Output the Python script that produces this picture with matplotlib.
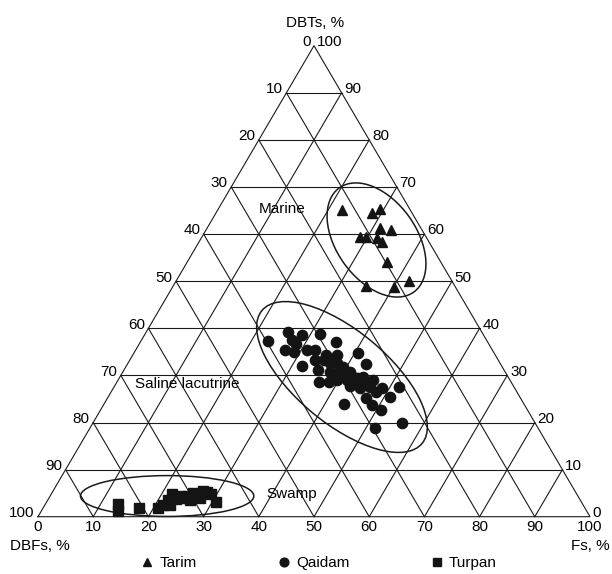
import numpy as np
import matplotlib
matplotlib.use("Agg")
import matplotlib.pyplot as plt
from matplotlib.patches import Ellipse

plt.rcParams['font.family'] = ['Liberation Sans', 'DejaVu Sans']

# sample compositions, % (DBTs, Fs); DBFs = 100 - DBTs - Fs
tarim_dbts = [65.1, 64.5, 65.3, 61.2, 60.9, 59.4, 59.4, 59.1, 58.4, 54.1, 49.0, 48.7, 50.1]
tarim_fs = [22.6, 28.2, 29.3, 31.4, 33.5, 28.6, 29.8, 31.9, 33.2, 36.1, 35.0, 40.1, 42.1]

qaidam_dbts = [37.4, 39.2, 37.5, 38.6, 38.7, 35.4, 35.0, 35.4, 35.4, 37.0, 34.3, 34.3,
               33.3, 33.3, 32.0, 32.6, 31.8, 34.7, 32.4, 31.1, 30.8, 30.4, 30.8, 29.7,
               28.7, 28.7, 29.0, 29.0, 28.3, 29.7, 28.3, 29.0, 27.3, 27.6, 27.3, 27.5,
               25.4, 25.1, 23.7, 22.7, 23.9, 20.0, 18.8,
               31.6, 29.4, 28.2, 26.5, 32.6, 27.7, 36.7]
qaidam_fs = [23.0, 25.7, 27.2, 28.5, 31.7, 27.0, 28.8, 31.0, 32.5, 35.5, 35.1, 37.0,
             33.6, 35.1, 31.8, 37.8, 39.4, 40.6, 43.3, 35.2, 37.5, 39.5, 41.1, 42.2,
             36.5, 38.3, 39.6, 41.4, 43.5, 44.0, 45.3, 46.2, 44.7, 46.3, 48.7, 51.6,
             51.1, 46.9, 48.6, 50.7, 43.5, 55.9, 51.7,
             38.9, 43.3, 44.6, 47.9, 36.6, 42.6, 28.4]

turpan_dbts = [2.7, 1.2, 1.8, 1.8, 2.5, 3.5, 4.8, 3.8, 4.4, 4.0, 4.4, 5.0, 4.8, 5.4,
               5.2, 4.8, 3.1, 2.5, 3.5, 4.0]
turpan_fs = [13.1, 13.9, 17.4, 20.8, 21.4, 21.8, 21.9, 23.1, 23.5, 24.4, 25.0, 25.6,
             26.6, 27.2, 28.0, 28.9, 30.7, 22.7, 25.8, 27.3]

# depositional environment fields: centre (DBTs, Fs), width, height, angle
env_fields = [
    ((58.75, 31.95), 23.2, 14.5, -54.5),
    ((29.66, 40.24), 37.7, 16.8, -39.7),
    ((4.39, 21.2), 31.4, 7.4, 0.0),
]
field_labels = [
    ("Marine", (65.3, 11.5)),
    ("Saline lacutrine", (28.2, 13.0)),
    ("Swamp", (4.8, 43.5)),
]

ticks = list(range(0, 101, 10))

SQ = 471 / 552  # vertical squash of the triangle


def tern(dbts, fs):
    dbts = np.asarray(dbts, float)
    fs = np.asarray(fs, float)
    return fs + dbts / 2, dbts * SQ


fig = plt.figure(figsize=(6.12, 5.74), dpi=100)
W, H = 612, 574
ax = fig.add_axes([38 / W, (H - 516.7) / H, 552 / W, 471 / H])
ax.set_xlim(0, 100)
ax.set_ylim(0, 100 * SQ)
ax.axis('off')

lc = '#1a1a1a'
lw = 0.8

# grid
for i in ticks[1:-1]:
    x, y = tern([i, i], [0, 100 - i])            # constant DBTs
    ax.plot(x, y, color=lc, lw=lw, clip_on=False)
    x, y = tern([0, 100 - i], [i, i])            # constant Fs
    ax.plot(x, y, color=lc, lw=lw, clip_on=False)
    x, y = tern([0, 100 - i], [100 - i, 0])      # constant DBFs
    ax.plot(x, y, color=lc, lw=lw, clip_on=False)

x, y = tern([0, 0, 100, 0], [0, 100, 0, 0])
ax.plot(x, y, color=lc, lw=lw, clip_on=False)

# tick labels
fs_tick = 11
for v in ticks:
    x, y = tern(0, v)
    ax.annotate(str(v), (x, y), xytext=(0, -7.2), textcoords='offset points',
                ha='center', va='center', fontsize=fs_tick)
    x, y = tern(100 - v, 0)
    ax.annotate(str(v), (x, y), xytext=(-2.5, 2.6), textcoords='offset points',
                ha='right', va='center', fontsize=fs_tick)
    x, y = tern(v, 100 - v)
    ax.annotate(str(v), (x, y), xytext=(2.0, 2.6), textcoords='offset points',
                ha='left', va='center', fontsize=fs_tick)

fig.text(314.7 / W, 1 - 23 / H, "DBTs, %", ha='center', va='center', fontsize=fs_tick)
fig.text(10 / W, 1 - 546 / H, "DBFs, %", ha='left', va='center', fontsize=fs_tick)
fig.text(610 / W, 1 - 546 / H, "Fs, %", ha='right', va='center', fontsize=fs_tick)

# environment ellipses
for (cd, cf), w, h, ang in env_fields:
    cx, cy = tern(cd, cf)
    ax.add_patch(Ellipse((cx, cy), w, h, angle=ang, fill=False, ec=lc, lw=1.1,
                         clip_on=False))

for name, (d, f) in field_labels:
    x, y = tern(d, f)
    ax.text(x, y, name, ha='center', va='center', fontsize=fs_tick)

mc = '#141414'
x, y = tern(tarim_dbts, tarim_fs)
h1, = ax.plot(x, y, '^', ms=7.2, color=mc, ls='none', clip_on=False, label='Tarim')
x, y = tern(qaidam_dbts, qaidam_fs)
h2, = ax.plot(x, y, 'o', ms=7.4, color=mc, ls='none', clip_on=False, label='Qaidam')
x, y = tern(turpan_dbts, turpan_fs)
h3, = ax.plot(x, y, 's', ms=7.2, color=mc, ls='none', clip_on=False, label='Turpan')

fig.legend(handles=[h1, h2, h3], loc='center', bbox_to_anchor=(319 / W, 11 / H),
           ncol=3, frameon=False, fontsize=fs_tick, markerscale=0.85,
           handlelength=0.8, handletextpad=0.4, columnspacing=5.3)

fig.savefig("out.png", dpi=100)
